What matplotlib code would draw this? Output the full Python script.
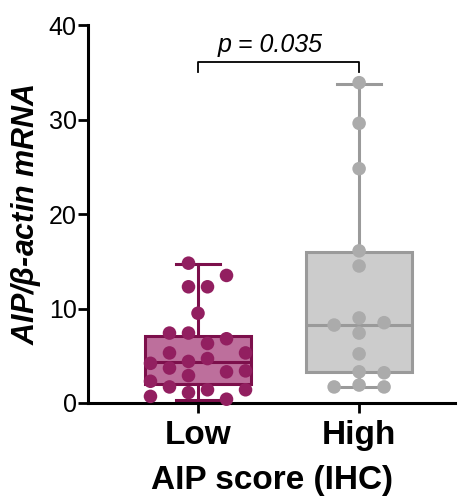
import numpy as np
import matplotlib
matplotlib.use('Agg')
import matplotlib.pyplot as plt

plt.rcParams['font.family'] = ['Liberation Sans', 'DejaVu Sans']
plt.rcParams['mathtext.fontset'] = 'custom'
plt.rcParams['mathtext.it'] = 'Liberation Sans:italic:bold'

# 数据
groups = ['Low', 'High']
low_values = [14.8, 13.5, 12.3, 12.3, 9.5, 7.4, 7.4, 6.8, 6.3, 5.3, 5.3, 4.2, 4.4,
              4.7, 3.7, 3.3, 3.4, 2.9, 2.3, 1.7, 1.4, 1.4, 1.1, 0.7, 0.4]
low_lanes = [-0.5, 1.5, -0.5, 0.5, 0, -1.5, -0.5, 1.5, 0.5, -1.5, 2.5, -2.5, -0.5,
             0.5, -1.5, 1.5, 2.5, -0.5, -2.5, -1.5, 0.5, 2.5, -0.5, -2.5, 1.5]
high_values = [33.9, 29.6, 24.8, 16.1, 14.5, 9.0, 8.5, 8.25, 7.4, 5.2, 3.3, 3.2,
               1.9, 1.7, 1.7]
high_lanes = [0, 0, 0, 0, 0, 0, 1, -1, 0, 0, 0, 1, 0, -1, 1]
# 箱线图统计量：下须, Q1, 中位数, Q3, 上须
low_box = [0.3, 2.0, 4.3, 7.1, 14.7]
high_box = [1.65, 3.3, 8.25, 16.0, 33.8]
p_text = 'p = 0.035'

fig = plt.figure(figsize=(4.63, 4.96), dpi=100)
ax = fig.add_axes([0.190, 0.1875, 0.793, 0.762])

styles = [
    dict(fill='#bd6f9c', edge='#7c0f4b', dot='#921f60', lane=0.118),
    dict(fill='#cccccc', edge='#9a9a9a', dot='#ababab', lane=0.155),
]
boxes = [low_box, high_box]
values = [low_values, high_values]
lanes = [low_lanes, high_lanes]

for i, (b, st) in enumerate(zip(boxes, styles)):
    stats = [dict(whislo=b[0], q1=b[1], med=b[2], q3=b[3], whishi=b[4], fliers=[])]
    ax.bxp(stats, positions=[i], widths=0.66, patch_artist=True, showfliers=False,
           boxprops=dict(facecolor=st['fill'], edgecolor=st['edge'], linewidth=2.2),
           medianprops=dict(color=st['edge'], linewidth=2.2),
           whiskerprops=dict(color=st['edge'], linewidth=2.2),
           capprops=dict(color=st['edge'], linewidth=2.2), capwidths=0.27,
           zorder=2)
    x = i + np.array(lanes[i]) * st['lane']
    ax.scatter(x, values[i], s=95, color=st['dot'], edgecolors='none', zorder=3,
               clip_on=False)

# 显著性标注
ax.plot([0, 0, 1, 1], [35.0, 36.1, 36.1, 35.0], color='black', lw=1.3, clip_on=False)
ax.text(0.45, 37.2, p_text, ha='center', va='baseline', fontsize=18, style='italic')

ax.set_xlim(-0.683, 1.596)
ax.set_ylim(0, 40)
ax.set_yticks([0, 10, 20, 30, 40])
ax.set_xticks([0, 1])
ax.set_xticklabels(groups, fontsize=24, fontweight='bold')
ax.tick_params(axis='y', labelsize=18, width=2, length=7, pad=1)
ax.tick_params(axis='x', width=2, length=7, pad=5)
for s in ['top', 'right']:
    ax.spines[s].set_visible(False)
for s in ['left', 'bottom']:
    ax.spines[s].set_linewidth(2.2)
ax.set_ylabel(r'AIP/$\beta$-actin mRNA', fontsize=22, fontweight='bold', style='italic',
              labelpad=4)
ax.set_xlabel('AIP score (IHC)', fontsize=24, fontweight='bold', labelpad=10)

fig.savefig('out.png', dpi=100)
